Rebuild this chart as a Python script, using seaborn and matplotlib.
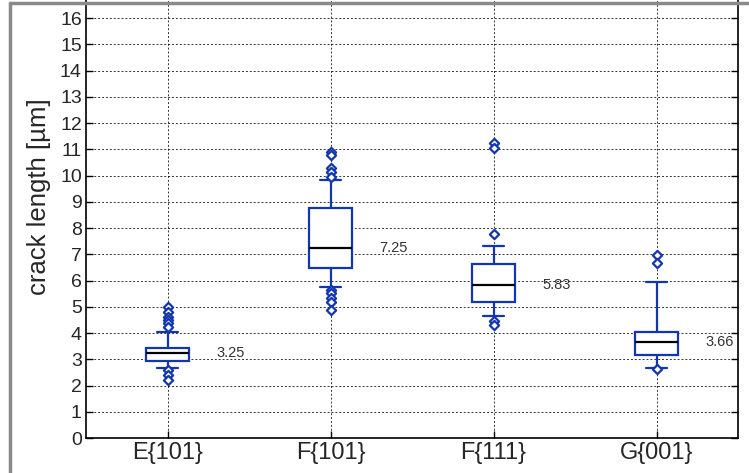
import numpy as np
import pandas as pd
import matplotlib
matplotlib.use("Agg")
import matplotlib.pyplot as plt
from matplotlib.lines import Line2D
import seaborn as sns

# five-number summary per group
categories = ["E{101}", "F{101}", "F{111}", "G{001}"]
whisker_low = [2.65, 5.76, 4.65, 2.65]
q1 = [2.93, 6.46, 5.19, 3.16]
medians = [3.25, 7.25, 5.83, 3.66]
q3 = [3.42, 8.75, 6.62, 4.03]
whisker_high = [4.05, 9.83, 7.31, 5.95]

# outliers per group
outliers_E101 = [5.0, 4.81, 4.62, 4.5, 4.37, 4.24, 2.59, 2.4, 2.21]
outliers_F101 = [10.9, 10.78, 10.27, 10.15, 9.96, 5.64, 5.51, 5.32, 5.19, 4.88]
outliers_F111 = [11.23, 11.04, 7.77, 4.47, 4.30]
outliers_G001 = [6.97, 6.68, 2.62]

blue = "#1236b0"

sns.set_style("white")
plt.rcParams["font.family"] = ["Liberation Sans", "DejaVu Sans"]

# five points per group -> quartiles land exactly on q1/median/q3, whis=inf puts whiskers on min/max
rows = []
for i, cat in enumerate(categories):
    for v in [whisker_low[i], q1[i], medians[i], q3[i], whisker_high[i]]:
        rows.append({"group": cat, "value": v})
box_df = pd.DataFrame(rows)

out_lists = [outliers_E101, outliers_F101, outliers_F111, outliers_G001]
out_rows = []
for i, vals in enumerate(out_lists):
    for v in vals:
        out_rows.append({"pos": i, "value": v})
out_df = pd.DataFrame(out_rows)

fig = plt.figure(figsize=(7.49, 4.73), dpi=100)
ax = fig.add_axes([86 / 749, 35 / 473, (738 - 86) / 749, 438 / 473])

sns.boxplot(data=box_df, x="group", y="value", order=categories, ax=ax,
            whis=np.inf, showfliers=False, width=0.26, color="white",
            linecolor=blue, linewidth=1.6,
            medianprops=dict(color="black", linewidth=1.6))

sns.scatterplot(data=out_df, x="pos", y="value", ax=ax, marker="D", s=22,
                color="white", edgecolor=blue, linewidth=1.6, zorder=5)

for i, m in enumerate(medians):
    ax.text(i + 0.3, m, f"{m:.2f}", ha="left", va="center",
            fontsize=10.5, color="#333333")

ax.set_xlim(-0.5, 3.5)
ax.set_ylim(0, 16.69)
ax.set_yticks(range(0, 17))
ax.set_xticks(range(len(categories)))
ax.set_xticklabels(categories, fontsize=17)
ax.tick_params(axis="y", labelsize=14)
ax.tick_params(direction="in", length=5, width=1, color="black",
               right=True, left=True, bottom=True, pad=3)
ax.set_xlabel("")
ax.set_ylabel("crack length [\u00b5m]", fontsize=18.5)
ax.yaxis.set_label_coords(-0.053, 0.55)
ax.grid(True, linestyle=(0, (2, 2)), color="black", linewidth=0.7, alpha=0.8)
ax.set_axisbelow(True)
for side in ["left", "right", "bottom"]:
    ax.spines[side].set_color("black")
    ax.spines[side].set_linewidth(1.2)
ax.spines["top"].set_visible(False)

# grey frame from the original crop
fig.add_artist(Line2D([10 / 749, 10 / 749], [0, 1 - 3 / 473], color="#8a8a8a",
                      linewidth=2.5, transform=fig.transFigure))
fig.add_artist(Line2D([10 / 749, 1], [1 - 3 / 473, 1 - 3 / 473], color="#8a8a8a",
                      linewidth=2.5, transform=fig.transFigure))

fig.savefig("out.png", dpi=100)
